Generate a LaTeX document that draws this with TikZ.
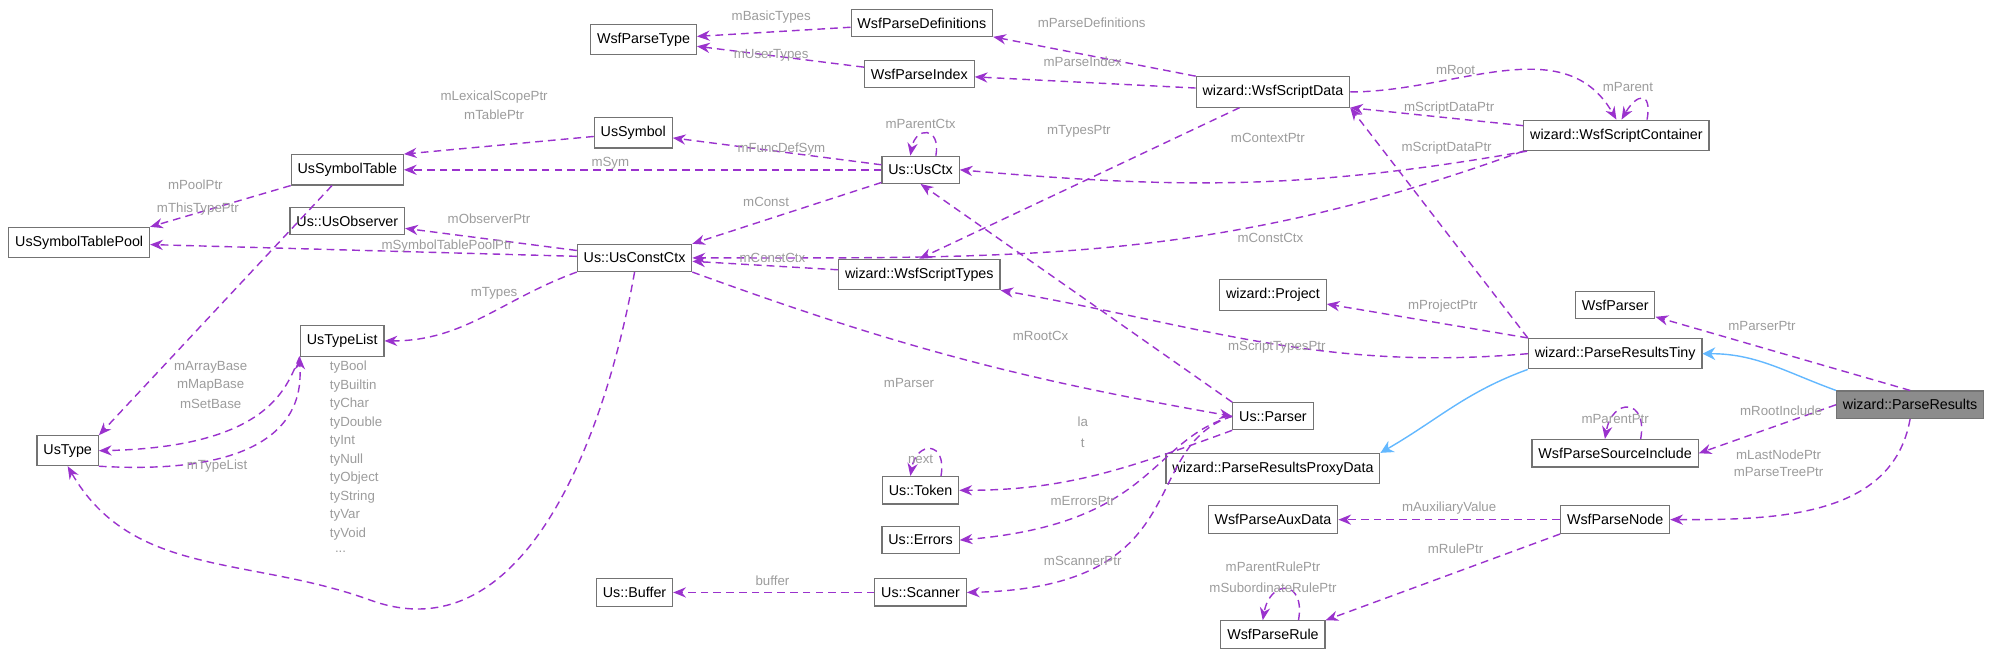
\documentclass[tikz,border=0pt]{standalone}
\usepackage{fontspec}
\setmainfont{Liberation Sans}
\usetikzlibrary{arrows.meta}
\definecolor{refcol}{HTML}{9A32CD}
\definecolor{lblcol}{HTML}{9C9C9C}
\definecolor{inhcol}{HTML}{63B8FF}
\tikzset{
cls/.style={draw=black!55,fill=white,line width=0.45pt,inner xsep=2.5pt,
  minimum height=9.5pt,font=\fontsize{5.6}{6.5}\selectfont},
cur/.style={cls,fill=black!45},
ref/.style={draw=refcol,dashed,dash pattern=on 3pt off 2pt,line width=0.55pt,
  -{Stealth[length=5pt,width=4pt]}},
inh/.style={draw=inhcol,line width=0.55pt,-{Stealth[length=5pt,width=5pt]}},
lbl/.style={text=lblcol,inner sep=0pt,font=\fontsize{5.2}{6}\selectfont},
}
\begin{document}
\begin{tikzpicture}[x=0.5pt,y=-0.5pt]
\useasboundingbox (0,0) rectangle (1568,516);
% the classes
\node[cls] (pt)   at (504,31)  {WsfParseType};
\node[cls] (pdef) at (722,18)  {WsfParseDefinitions};
\node[cls] (pidx) at (720,58)  {WsfParseIndex};
\node[cls] (sdat) at (997,72)  {wizard::WsfScriptData};
\node[cls] (scon) at (1266,106) {wizard::WsfScriptContainer};
\node[cls] (sym)  at (496,104) {UsSymbol};
\node[cls] (stab) at (272,133) {UsSymbolTable};
\node[cls] (ctx)  at (721,133) {Us::UsCtx};
\node[cls] (obs)  at (272,173) {Us::UsObserver};
\node[cls] (pool) at (62,190)  {UsSymbolTablePool};
\node[cls] (cctx) at (497,202) {Us::UsConstCtx};
\node[cls] (styp) at (720,215) {wizard::WsfScriptTypes};
\node[cls] (proj) at (997,231) {wizard::Project};
\node[cls] (wpar) at (1265,239) {WsfParser};
\node[cls] (tlst) at (268,267) {UsTypeList};
\node[cls] (tiny) at (1265,277) {wizard::ParseResultsTiny};
\node[cur] (res)  at (1496,317) {wizard::ParseResults};
\node[cls] (upar) at (997,326) {Us::Parser};
\node[cls] (utyp) at (53,353)  {UsType};
\node[cls] (prox) at (997,367) {wizard::ParseResultsProxyData};
\node[cls] (sinc) at (1265,355) {WsfParseSourceInclude};
\node[cls] (tok)  at (721,384) {Us::Token};
\node[cls] (err)  at (721,423) {Us::Errors};
\node[cls] (aux)  at (997,407) {WsfParseAuxData};
\node[cls] (node) at (1265,407) {WsfParseNode};
\node[cls] (buf)  at (497,464) {Us::Buffer};
\node[cls] (scan) at (721,464) {Us::Scanner};
\node[cls] (rule) at (997,497) {WsfParseRule};
% the references
\draw[ref] (pdef) -- (pt);
\draw[ref] (pidx) -- (pt);
\draw[ref] (sdat.north west) -- (pdef);
\draw[ref] (sdat) -- (pidx);
\draw[ref] (sdat.east) to[out=0,in=120] (scon.north);
\draw[ref] (scon) -- (sdat.south east);
\draw[ref] ([xshift=12pt]scon.north) to[out=80,in=60,looseness=3] ([xshift=2pt]scon.north);
\draw[ref] (sdat) -- (styp.north);
\draw[ref] (scon) to[out=190,in=-5] (ctx.east);
\draw[ref] (tiny.north west) -- (sdat.south east);
\draw[ref] (scon.south west) to[out=200,in=0] (cctx.east);
\draw[ref] (ctx) -- (sym);
\draw[ref] ([xshift=6pt]ctx.north) to[out=80,in=80,looseness=3] ([xshift=-4pt]ctx.north);
\draw[ref] (ctx) -- (stab);
\draw[ref] (sym) -- (stab.north east);
\draw[ref] (stab.south west) -- (pool.north east);
\draw[ref] ([xshift=-6pt]stab.south) -- (utyp.north east);
\draw[ref] (ctx) -- (cctx.north east);
\draw[ref] (cctx) -- (obs);
\draw[ref] (cctx) -- (pool);
\draw[ref] (styp) -- (cctx);
\draw[ref] (cctx.south west) to[out=200,in=0] (tlst.east);
\draw[ref] (tlst.south west) .. controls (225,300) and (215,350) .. (utyp.east);
\draw[ref] (utyp.south east) .. controls (245,375) and (235,300) .. (tlst.south west);
\draw[ref] (cctx.south) to[out=260,in=-20] (290,470) to[out=160,in=-60] (utyp.south);
\draw[ref] (cctx.south east) to[out=-20,in=170] (upar.west);
\draw[ref] (upar.north west) -- (ctx.south);
\draw[ref] (tiny.west) to[out=185,in=-10] (styp.south east);
\draw[ref] (tiny.north west) -- (proj);
\draw[ref] (res.north) -- (wpar);
\draw[inh] (res.north west) to[out=160,in=0] (tiny.east);
\draw[inh] (tiny.south west) to[out=200,in=30] (prox.north east);
\draw[ref] (res.west) -- (sinc.east);
\draw[ref] ([xshift=10pt]sinc.north) to[out=80,in=80,looseness=3] ([xshift=-4pt]sinc.north);
\draw[ref] (res.south) to[out=260,in=0] (node.east);
\draw[ref] (node) -- (aux);
\draw[ref] (node.south west) -- (rule.north east);
\draw[ref] ([xshift=10pt]rule.north) to[out=80,in=80,looseness=3] ([xshift=-4pt]rule.north);
\draw[ref] (upar.south west) to[out=200,in=0] (tok.east);
\draw[ref] ([xshift=8pt]tok.north) to[out=80,in=80,looseness=3] ([xshift=-4pt]tok.north);
\draw[ref] (upar.west) .. controls (900,345) and (905,410) .. (err.east);
\draw[ref] (upar.west) .. controls (890,350) and (940,460) .. (scan.east);
\draw[ref] (scan) -- (buf);
% the labels
\node[lbl] (l1)  at (604,13)  {mBasicTypes};
\node[lbl] (l2)  at (604,43)  {mUserTypes};
\node[lbl] (l3)  at (855,18)  {mParseDefinitions};
\node[lbl] (l4)  at (848,48)  {mParseIndex};
\node[lbl] (l5)  at (1140,55) {mRoot};
\node[lbl] (l6)  at (1135,85) {mScriptDataPtr};
\node[lbl] (l7)  at (1275,68) {mParent};
\node[lbl] (l8)  at (845,103) {mTypesPtr};
\node[lbl] (l9)  at (993,108) {mContextPtr};
\node[lbl] (l10) at (1133,116) {mScriptDataPtr};
\node[lbl] (l11) at (995,186) {mConstCtx};
\node[lbl] (l12) at (612,117) {mFuncDefSym};
\node[lbl] (l13) at (721,97)  {mParentCtx};
\node[lbl] (l14) at (478,128) {mSym};
\node[lbl] (l15) at (387,76)  {mLexicalScopePtr};
\node[lbl] (l16) at (387,90)  {mTablePtr};
\node[lbl] (l17) at (153,145) {mPoolPtr};
\node[lbl] (l18) at (155,164) {mThisTypePtr};
\node[lbl] (l19) at (600,158) {mConst};
\node[lbl] (l20) at (383,171) {mObserverPtr};
\node[lbl] (l21) at (350,193) {mSymbolTablePoolPtr};
\node[lbl] (l22) at (605,202) {mConstCtx};
\node[lbl] (l23) at (387,230) {mTypes};
\node[lbl] (l24) at (165,288) {mArrayBase};
\node[lbl] (l25) at (165,302) {mMapBase};
\node[lbl] (l26) at (165,316) {mSetBase};
\node[lbl] (l27) at (170,365) {mTypeList};
\foreach \t [count=\i] in {tyBool,tyBuiltin,tyChar,tyDouble,tyInt,tyNull,tyObject,tyString,tyVar,tyVoid}
  \node[lbl,anchor=west] (ty\i) at (258,273+14.5*\i) {\t};
\node[lbl,anchor=west] (ty11) at (262,432.5) {...};
\node[lbl] (l28) at (712,300) {mParser};
\node[lbl] (l29) at (815,263) {mRootCx};
\node[lbl] (l30) at (1000,272) {mScriptTypesPtr};
\node[lbl] (l31) at (1130,240) {mProjectPtr};
\node[lbl] (l32) at (1380,255) {mParserPtr};
\node[lbl] (l33) at (1395,322) {mRootInclude};
\node[lbl] (l34) at (1265,328) {mParentPtr};
\node[lbl] (l35) at (1393,356) {mLastNodePtr};
\node[lbl] (l36) at (1393,370) {mParseTreePtr};
\node[lbl] (l37) at (1135,398) {mAuxiliaryValue};
\node[lbl] (l38) at (1140,430) {mRulePtr};
\node[lbl] (l39) at (997,444) {mParentRulePtr};
\node[lbl] (l40) at (997,460) {mSubordinateRulePtr};
\node[lbl] (l41) at (848,330) {la};
\node[lbl] (l42) at (848,347) {t};
\node[lbl] (l43) at (721,360) {next};
\node[lbl] (l44) at (848,392) {mErrorsPtr};
\node[lbl] (l45) at (848,439) {mScannerPtr};
\node[lbl] (l46) at (605,455) {buffer};
\end{tikzpicture}
\end{document}
